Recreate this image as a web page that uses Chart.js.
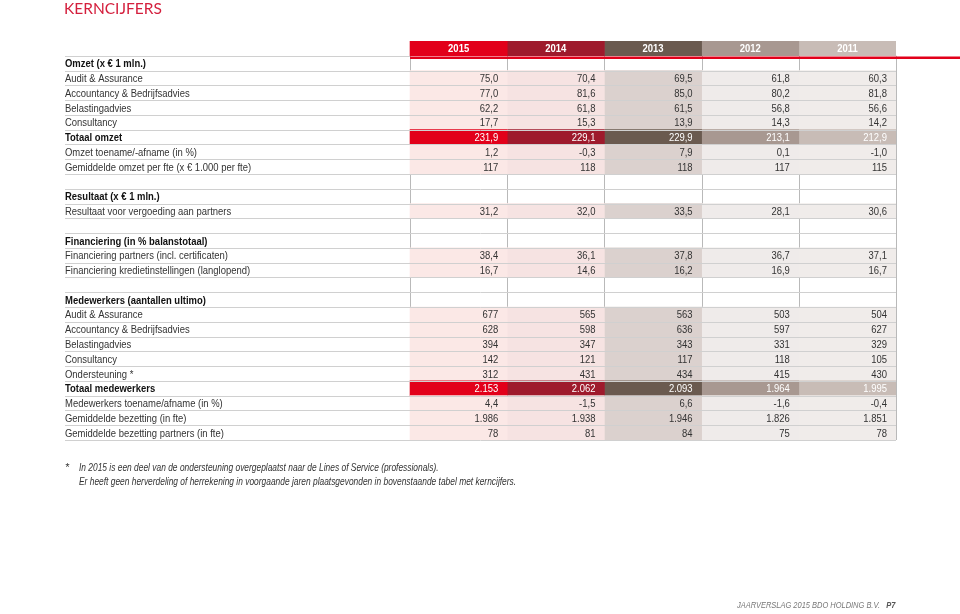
<!DOCTYPE html>
<html lang="nl">
<head>
<meta charset="utf-8">
<title>Kerncijfers</title>
<script src="https://cdn.jsdelivr.net/npm/chart.js@4/dist/chart.umd.min.js"></script>
<style>
  html, body { margin: 0; padding: 0; background: #fff; }
  body { width: 960px; height: 614px; position: relative; overflow: hidden; }
  #chart { position: absolute; left: 0; top: 0; }
  #title { position: absolute; left: 64px; top: -1px; font: 400 15.5px Lato, sans-serif; color: #d41f3d; }
  .note { position: absolute; left: 65px; top: 460px; font: italic 10.5px "Liberation Sans", sans-serif; color: #333; line-height: 14px; }
  .note span { position: absolute; left: 0; }
  .note div { margin-left: 14px; white-space: nowrap; transform: scaleX(0.8); transform-origin: left center; }
  #footer { position: absolute; left: 737px; top: 600px; font: italic 9px "Liberation Sans", sans-serif; color: #777; white-space: nowrap; transform: scaleX(0.83); transform-origin: left center; }
  #footer b { color: #555; margin-left: 5px; }
</style>
</head>
<body>
<canvas id="chart" width="960" height="614"></canvas>
<div id="title">KERNCIJFERS</div>
<div class="note"><span>*</span>
  <div>In 2015 is een deel van de ondersteuning overgeplaatst naar de Lines of Service (professionals).</div>
  <div>Er heeft geen herverdeling of herrekening in voorgaande jaren plaatsgevonden in bovenstaande tabel met kerncijfers.</div>
</div>
<div id="footer">JAARVERSLAG 2015 BDO HOLDING B.V. <b>P7</b></div>
<script>
"use strict";

// ─── Data ─────────────────────────────────────────────────────
const years = ["2015", "2014", "2013", "2012", "2011"];

const rowLabels = [
  "Omzet (x € 1 mln.)",
  "Audit & Assurance",
  "Accountancy & Bedrijfsadvies",
  "Belastingadvies",
  "Consultancy",
  "Totaal omzet",
  "Omzet toename/-afname (in %)",
  "Gemiddelde omzet per fte (x € 1.000 per fte)",
  "",
  "Resultaat (x € 1 mln.)",
  "Resultaat voor vergoeding aan partners",
  "",
  "Financiering (in % balanstotaal)",
  "Financiering partners (incl. certificaten)",
  "Financiering kredietinstellingen (langlopend)",
  "",
  "Medewerkers (aantallen ultimo)",
  "Audit & Assurance",
  "Accountancy & Bedrijfsadvies",
  "Belastingadvies",
  "Consultancy",
  "Ondersteuning *",
  "Totaal medewerkers",
  "Medewerkers toename/afname (in %)",
  "Gemiddelde bezetting (in fte)",
  "Gemiddelde bezetting partners (in fte)",
];

// section = bold heading, total = bold + strong fill, blank = spacer
const rowKinds = [
  "section", "item", "item", "item", "item", "total", "item", "item", "blank",
  "section", "item", "blank",
  "section", "item", "item", "blank",
  "section", "item", "item", "item", "item", "item", "total", "item", "item", "item",
];

const rowDecimals = [
  0, 1, 1, 1, 1, 1, 1, 0, 0,
  0, 1, 0,
  0, 1, 1, 0,
  0, 0, 0, 0, 0, 0, 0, 1, 0, 0,
];

const v2015 = [null, 75.0, 77.0, 62.2, 17.7, 231.9, 1.2, 117, null, null, 31.2, null, null, 38.4, 16.7, null, null, 677, 628, 394, 142, 312, 2153, 4.4, 1986, 78];
const v2014 = [null, 70.4, 81.6, 61.8, 15.3, 229.1, -0.3, 118, null, null, 32.0, null, null, 36.1, 14.6, null, null, 565, 598, 347, 121, 431, 2062, -1.5, 1938, 81];
const v2013 = [null, 69.5, 85.0, 61.5, 13.9, 229.9, 7.9, 118, null, null, 33.5, null, null, 37.8, 16.2, null, null, 563, 636, 343, 117, 434, 2093, 6.6, 1946, 84];
const v2012 = [null, 61.8, 80.2, 56.8, 14.3, 213.1, 0.1, 117, null, null, 28.1, null, null, 36.7, 16.9, null, null, 503, 597, 331, 118, 415, 1964, -1.6, 1826, 75];
const v2011 = [null, 60.3, 81.8, 56.6, 14.2, 212.9, -1.0, 115, null, null, 30.6, null, null, 37.1, 16.7, null, null, 504, 627, 329, 105, 430, 1995, -0.4, 1851, 78];
const values = [v2015, v2014, v2013, v2012, v2011];

// ─── Look ─────────────────────────────────────────────────────
const strong = ["#e2001a", "#9e1a2c", "#6a5a4f", "#a89891", "#c8bcb6"];
const light = ["#fbe8e6", "#f6e3e2", "#dbd1ce", "#efebea", "#f0ecea"];
const LABEL_SPAN = 3.55; // label column width, in data-column units
const FONT = '"Liberation Sans", Arial, sans-serif';
const SX = 0.86; // the print face is narrower than Arial; squeeze horizontally

// Chart row 0 is the year header, row r+1 is table row r.
const chartRows = ["hdr", ...rowLabels.map((_, i) => "r" + i)];

// Dutch number format: 2.153 / 75,0 / -0,3
function fmt(v, d) {
  const parts = Math.abs(v).toFixed(d).split(".");
  const int = parts[0].replace(/\B(?=(\d{3})+(?!\d))/g, ".");
  return (v < 0 ? "-" : "") + int + (parts[1] ? "," + parts[1] : "");
}

function narrowText(ctx, text, x, y, align) {
  ctx.save();
  ctx.translate(x, y);
  ctx.scale(SX, 1);
  ctx.textAlign = align;
  ctx.fillText(text, 0, 0);
  ctx.restore();
}

const datasets = years.map((yr, k) => ({
  label: yr,
  data: chartRows.map((_, i) =>
    i === 0 || values[k][i - 1] != null ? [LABEL_SPAN + k, LABEL_SPAN + k + 1] : null
  ),
  backgroundColor: chartRows.map((_, i) =>
    i === 0 || rowKinds[i - 1] === "total" ? strong[k] : light[k]
  ),
  borderWidth: 0,
  borderSkipped: false,
  barPercentage: 1,
  categoryPercentage: 1,
  grouped: false,
}));

// ─── Grid lines + texts ───────────────────────────────────────
const tablePlugin = {
  id: "tableText",
  beforeDatasetsDraw(chart) {
    const { ctx, scales: { x, y } } = chart;
    const band = y.getPixelForValue(1) - y.getPixelForValue(0);
    const top = y.getPixelForValue(1) - band / 2;
    const bottom = y.getPixelForValue(chartRows.length - 1) + band / 2;
    ctx.save();
    ctx.strokeStyle = "#b9b9b9";
    ctx.lineWidth = 1;
    for (let k = 0; k <= years.length; k++) {
      const px = Math.round(x.getPixelForValue(LABEL_SPAN + k)) + 0.5;
      ctx.beginPath();
      ctx.moveTo(px, top);
      ctx.lineTo(px, bottom);
      ctx.stroke();
    }
    ctx.restore();
  },
  afterDatasetsDraw(chart) {
    const { ctx, chartArea, scales: { x, y } } = chart;
    const band = y.getPixelForValue(1) - y.getPixelForValue(0);
    const left = chartArea.left;
    const dataLeft = x.getPixelForValue(LABEL_SPAN);
    const right = x.getPixelForValue(LABEL_SPAN + years.length);
    ctx.save();

    // row separators
    ctx.strokeStyle = "#d0d0d0";
    ctx.lineWidth = 1;
    for (let i = 1; i <= chartRows.length; i++) {
      const py = Math.round(y.getPixelForValue(i - 1) + band / 2) + 0.5;
      ctx.beginPath();
      ctx.moveTo(left, py);
      ctx.lineTo(i === 1 ? dataLeft : right, py);
      ctx.stroke();
    }

    // red rule under the year header
    const ry = y.getPixelForValue(0) + band / 2 + 2;
    ctx.strokeStyle = strong[0];
    ctx.lineWidth = 2.5;
    ctx.beginPath();
    ctx.moveTo(dataLeft, ry);
    ctx.lineTo(chart.width, ry);
    ctx.stroke();

    ctx.textBaseline = "middle";

    // year header
    ctx.fillStyle = "#fff";
    ctx.font = "bold 11px " + FONT;
    years.forEach((yr, k) => {
      narrowText(ctx, yr, x.getPixelForValue(LABEL_SPAN + k + 0.5), y.getPixelForValue(0) + 0.5, "center");
    });

    // row labels
    rowLabels.forEach((lab, r) => {
      if (!lab) return;
      const bold = rowKinds[r] === "section" || rowKinds[r] === "total";
      ctx.font = (bold ? "bold " : "") + "11px " + FONT;
      ctx.fillStyle = bold ? "#111" : "#333";
      narrowText(ctx, lab, left, y.getPixelForValue(r + 1) + 1, "left");
    });

    // values
    ctx.font = "11px " + FONT;
    values.forEach((col, k) => {
      const px = x.getPixelForValue(LABEL_SPAN + k + 1) - 9;
      col.forEach((v, r) => {
        if (v == null) return;
        ctx.fillStyle = rowKinds[r] === "total" ? "#fff" : "#333";
        narrowText(ctx, fmt(v, rowDecimals[r]), px, y.getPixelForValue(r + 1) + 1, "right");
      });
    });
    ctx.restore();
  },
};

new Chart(document.getElementById("chart"), {
  type: "bar",
  data: { labels: chartRows, datasets },
  options: {
    indexAxis: "y",
    responsive: false,
    animation: false,
    events: [],
    layout: { padding: { left: 65, right: 64, top: 41, bottom: 174 } },
    plugins: { legend: { display: false }, tooltip: { enabled: false } },
    scales: {
      x: { type: "linear", min: 0, max: LABEL_SPAN + years.length, display: false },
      y: { type: "category", display: false },
    },
  },
  plugins: [tablePlugin],
});
</script>
</body>
</html>
